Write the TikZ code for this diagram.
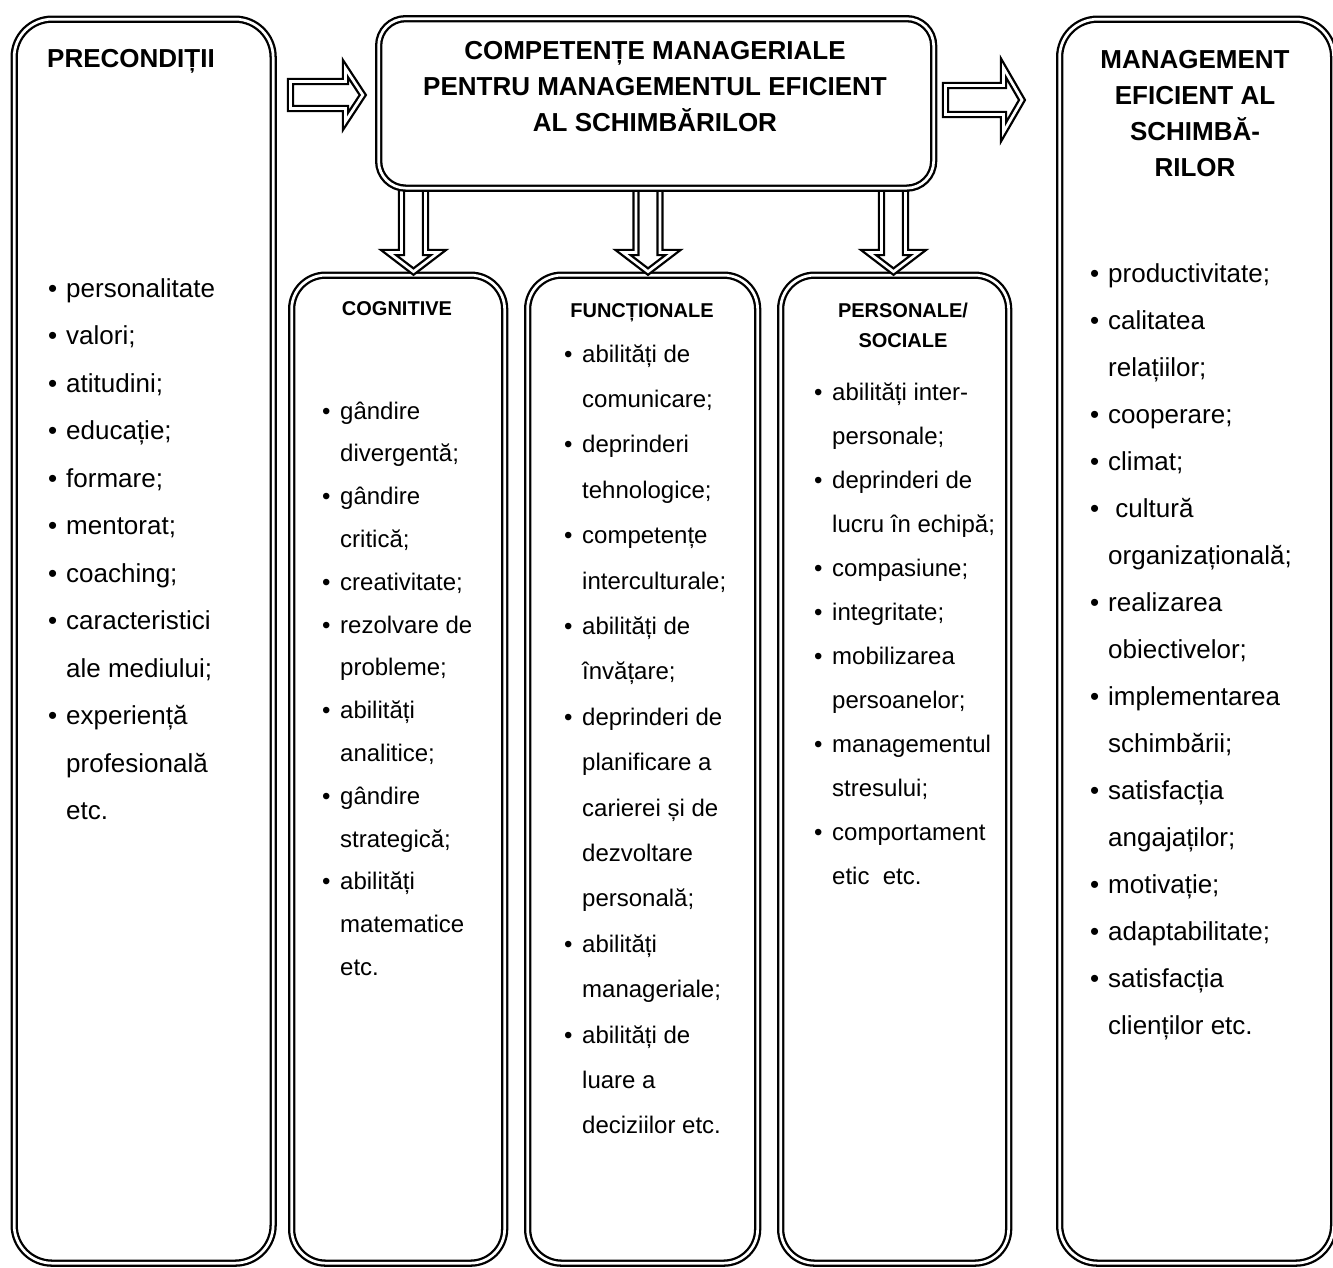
\documentclass[tikz,border=0pt]{standalone}
\usepackage{fontspec}
\setmainfont{Liberation Sans}
\newcommand\bl[1]{\makebox[18pt][l]{•}#1}
\newcommand\ct[1]{\hspace*{18pt}#1}
\begin{document}
\begin{tikzpicture}[x=1pt,y=-1pt,
  dbl/.style={draw=black, line width=2.3pt, double=white, double distance=2.7pt},
  bigbox/.style={dbl, rectangle, rounded corners=38pt, anchor=north west, inner sep=0pt},
  smallbox/.style={dbl, rectangle, rounded corners=34pt, anchor=north west, inner sep=0pt},
  topbox/.style={dbl, rectangle, rounded corners=27pt, anchor=north west, inner sep=0pt},
  blockarrow/.style={dbl, line join=miter, miter limit=10, fill=white},
  head/.style={anchor=base, inner sep=0pt, font=\fontsize{26}{36}\selectfont\bfseries},
  subhead/.style={anchor=base, inner sep=0pt, font=\fontsize{20}{30}\selectfont\bfseries},
  lst/.style={anchor=base west, inner sep=0pt, font=\fontsize{26}{#1}\selectfont},
  slst/.style={anchor=base west, inner sep=0pt, font=\fontsize{24}{#1}\selectfont}
]
\useasboundingbox (0,0) rectangle (1333,1267);

% outer and lower boxes
\node[bigbox, minimum width=259pt, minimum height=1244pt] (pre) at (13,18) {};
\node[bigbox, minimum width=274pt, minimum height=1244pt] (eff) at (1058.5,18) {};
\node[smallbox, minimum width=213pt, minimum height=988pt] (cog) at (290.5,274) {};
\node[smallbox, minimum width=230pt, minimum height=988pt] (fun) at (526.5,274) {};
\node[smallbox, minimum width=228pt, minimum height=988pt] (pers) at (779.5,274) {};

% horizontal block arrows
\draw[blockarrow] (290.5,81.5) -- (345.5,81.5) -- (345.5,68.6) -- (362.8,95) -- (345.5,121.4) -- (345.5,108.5) -- (290.5,108.5) -- cycle;
\draw[blockarrow] (945.5,85.5) -- (1003.5,85.5) -- (1003.5,68) -- (1022,100) -- (1003.5,132) -- (1003.5,114.5) -- (945.5,114.5) -- cycle;

% down block arrows (open at the top, joined to the top box)
\foreach \c in {413.5, 648, 893.5}{
  \draw[blockarrow] (\c-12,189) -- (\c-12,252.5) -- (\c-25,252.5) -- (\c,271.6) -- (\c+25,252.5) -- (\c+12,252.5) -- (\c+12,189);
}

% top box
\node[topbox, minimum width=555pt, minimum height=169.5pt] (comp) at (377.5,17.5) {};

% headings
\node[anchor=base west, inner sep=0pt, font=\fontsize{26}{36}\selectfont\bfseries] (preh) at (47,67) {PRECONDIȚII};
\node[head] (comph) at (655,59) {\begin{tabular}[t]{@{}c@{}}COMPETENȚE MANAGERIALE\\PENTRU MANAGEMENTUL EFICIENT\\AL SCHIMBĂRILOR\end{tabular}};
\node[head] (effh) at (1195,68) {\begin{tabular}[t]{@{}c@{}}MANAGEMENT\\EFICIENT AL\\SCHIMBĂ-\\RILOR\end{tabular}};
\node[subhead] (cogh) at (397,315) {COGNITIVE};
\node[subhead] (funh) at (642,317) {FUNCȚIONALE};
\node[subhead] (persh) at (903,317) {\begin{tabular}[t]{@{}c@{}}PERSONALE/\\SOCIALE\end{tabular}};

% lists
\node[lst=47.5] (prel) at (48,297) {\begin{tabular}[t]{@{}l@{}}
\bl{personalitate}\\ \bl{valori;}\\ \bl{atitudini;}\\ \bl{educație;}\\ \bl{formare;}\\ \bl{mentorat;}\\ \bl{coaching;}\\ \bl{caracteristici}\\ \ct{ale mediului;}\\ \bl{experiență}\\ \ct{profesională}\\ \ct{etc.}
\end{tabular}};

\node[slst=42.8] (cogl) at (322,419) {\begin{tabular}[t]{@{}l@{}}
\bl{gândire}\\ \ct{divergentă;}\\ \bl{gândire}\\ \ct{critică;}\\ \bl{creativitate;}\\ \bl{rezolvare de}\\ \ct{probleme;}\\ \bl{abilități}\\ \ct{analitice;}\\ \bl{gândire}\\ \ct{strategică;}\\ \bl{abilități}\\ \ct{matematice}\\ \ct{etc.}
\end{tabular}};

\node[slst=45.4] (funl) at (564,362) {\begin{tabular}[t]{@{}l@{}}
\bl{abilități de}\\ \ct{comunicare;}\\ \bl{deprinderi}\\ \ct{tehnologice;}\\ \bl{competențe}\\ \ct{interculturale;}\\ \bl{abilități de}\\ \ct{învățare;}\\ \bl{deprinderi de}\\ \ct{planificare a}\\ \ct{carierei și de}\\ \ct{dezvoltare}\\ \ct{personală;}\\ \bl{abilități}\\ \ct{manageriale;}\\ \bl{abilități de}\\ \ct{luare a}\\ \ct{deciziilor etc.}
\end{tabular}};

\node[slst=44] (persl) at (814,400) {\begin{tabular}[t]{@{}l@{}}
\bl{abilități inter-}\\ \ct{personale;}\\ \bl{deprinderi de}\\ \ct{lucru în echipă;}\\ \bl{compasiune;}\\ \bl{integritate;}\\ \bl{mobilizarea}\\ \ct{persoanelor;}\\ \bl{managementul}\\ \ct{stresului;}\\ \bl{comportament}\\ \ct{etic\ \ etc.}
\end{tabular}};

\node[lst=47] (effl) at (1090,282) {\begin{tabular}[t]{@{}l@{}}
\bl{productivitate;}\\ \bl{calitatea}\\ \ct{relațiilor;}\\ \bl{cooperare;}\\ \bl{climat;}\\ \bl{\ cultură}\\ \ct{organizațională;}\\ \bl{realizarea}\\ \ct{obiectivelor;}\\ \bl{implementarea}\\ \ct{schimbării;}\\ \bl{satisfacția}\\ \ct{angajaților;}\\ \bl{motivație;}\\ \bl{adaptabilitate;}\\ \bl{satisfacția}\\ \ct{clienților etc.}
\end{tabular}};
\end{tikzpicture}
\end{document}
